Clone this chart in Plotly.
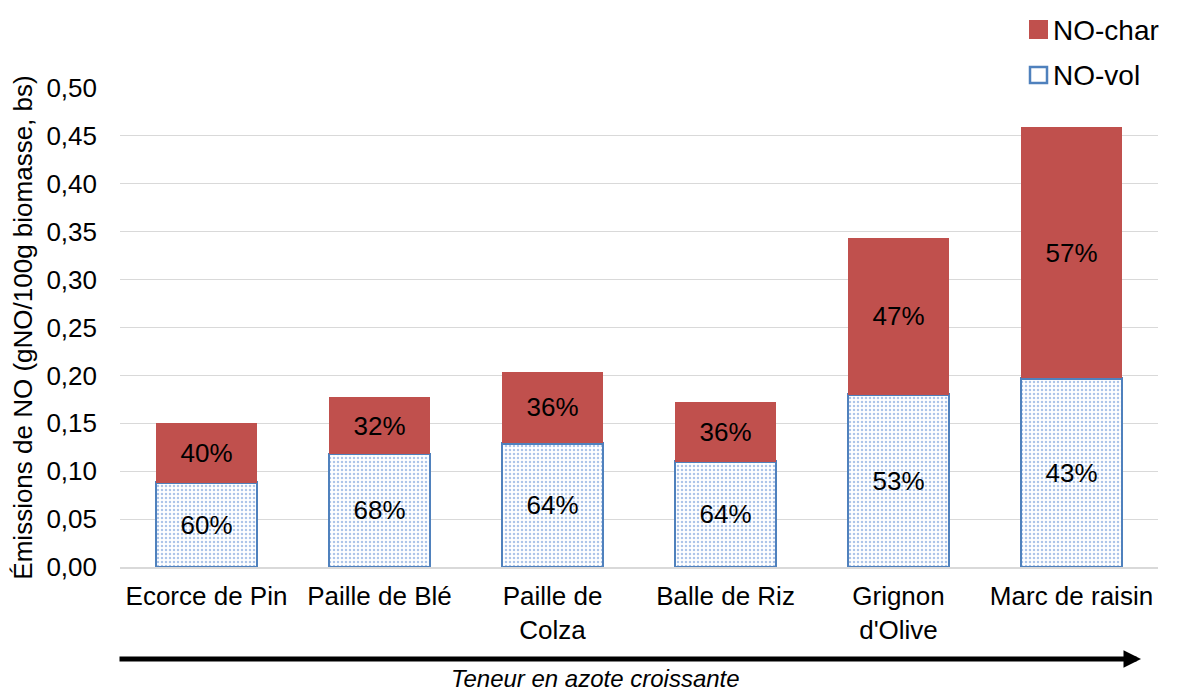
import plotly.graph_objects as go

# Biomass samples, ordered by increasing nitrogen content
categories = ["Ecorce de Pin", "Paille de Blé", "Paille de<br>Colza",
              "Balle de Riz", "Grignon<br>d'Olive", "Marc de raisin"]

# NO emissions (gNO/100g biomass, dry basis)
no_vol = [0.088, 0.118, 0.129, 0.110, 0.180, 0.197]
no_char = [0.062, 0.059, 0.075, 0.062, 0.163, 0.262]

# Share of each contribution in the total
pct_vol = ["60%", "68%", "64%", "64%", "53%", "43%"]
pct_char = ["40%", "32%", "36%", "36%", "47%", "57%"]

y_ticks = [0.0, 0.05, 0.10, 0.15, 0.20, 0.25, 0.30, 0.35, 0.40, 0.45, 0.50]

FONT = "Liberation Sans, Arial, sans-serif"
RED = "#C0504D"
BLUE = "#4F81BD"

# plot area in pixels (left, right, top, bottom)
L, R, T, B = 120, 1158, 88, 567


def px(x):
    return (x - L) / (R - L)


def py(y):
    return (B - y) / (B - T)


fig = go.Figure()
fig.add_trace(go.Bar(
    x=categories, y=no_vol, name="NO-vol", text=pct_vol,
    textposition="inside", insidetextanchor="middle", textangle=0,
    textfont=dict(size=26, color="black", family=FONT),
    marker=dict(color="white",
                line=dict(color=BLUE, width=2.5),
                pattern=dict(shape=".", fgcolor="#5A8AD2", bgcolor="white",
                             size=4, solidity=0.3)),
))
fig.add_trace(go.Bar(
    x=categories, y=no_char, name="NO-char", text=pct_char,
    textposition="inside", insidetextanchor="middle", textangle=0,
    textfont=dict(size=26, color="black", family=FONT),
    marker=dict(color=RED, line=dict(width=0)),
))

# legend drawn as swatches + labels
shapes = [
    dict(type="rect", xref="paper", yref="paper",
         x0=px(1029), x1=px(1048), y0=py(39), y1=py(20),
         fillcolor=RED, line=dict(width=0)),
    dict(type="rect", xref="paper", yref="paper",
         x0=px(1030), x1=px(1047), y0=py(83), y1=py(67),
         fillcolor="white", line=dict(color=BLUE, width=2.5)),
]

annotations = [
    dict(xref="paper", yref="paper", x=px(1051), y=py(30),
         xanchor="left", yanchor="middle", showarrow=False,
         text="NO-char", font=dict(size=28, family=FONT, color="black")),
    dict(xref="paper", yref="paper", x=px(1051), y=py(75),
         xanchor="left", yanchor="middle", showarrow=False,
         text="NO-vol", font=dict(size=28, family=FONT, color="black")),
    # nitrogen-content arrow
    dict(xref="x domain", yref="y domain",
         axref="x domain", ayref="y domain",
         x=px(1141), y=py(659), ax=px(118), ay=py(659),
         showarrow=True, arrowhead=2, arrowsize=0.7, arrowwidth=5,
         arrowcolor="black", text=""),
    dict(xref="paper", yref="paper", x=px(595), y=py(678),
         xanchor="center", yanchor="middle", showarrow=False,
         text="<i>Teneur en azote croissante</i>",
         font=dict(size=24, family=FONT, color="black")),
]

fig.update_layout(
    width=1181, height=693,
    barmode="stack", bargap=0.416,
    separators=", ",
    paper_bgcolor="white", plot_bgcolor="white",
    margin=dict(l=L, r=1181 - R, t=T, b=693 - B, autoexpand=False),
    font=dict(family=FONT, color="black"),
    showlegend=False,
    xaxis=dict(showline=True, linecolor="#D9D9D9", linewidth=1.5,
               ticks="", tickfont=dict(size=26, family=FONT),
               ticklabelstandoff=5),
    yaxis=dict(range=[0, 0.5], tickvals=y_ticks, tickformat=".2f",
               showgrid=True, gridcolor="#D9D9D9", gridwidth=1.3,
               zeroline=False, showline=False, ticks="",
               tickfont=dict(size=26, family=FONT), ticklabelstandoff=22,
               title=dict(text="Émissions de NO (gNO/100g biomasse, bs)",
                          font=dict(size=26, family=FONT), standoff=6)),
    shapes=shapes,
    annotations=annotations,
)

fig.write_html("out.html")
